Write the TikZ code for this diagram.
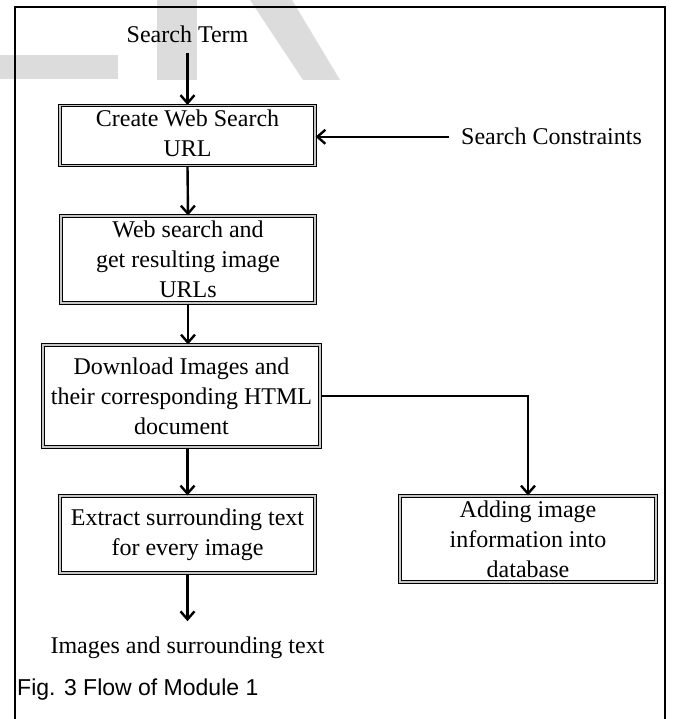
\documentclass[tikz,border=0pt]{standalone}
\usepackage{fontspec}
\setmainfont{Liberation Serif}
\newfontfamily\capfont{Liberation Sans}
\usetikzlibrary{positioning,arrows.meta,calc}
\definecolor{wmark}{HTML}{DCDCDC}

\begin{document}
\begin{tikzpicture}[x=1pt,y=-1pt,
  box/.style={draw,double=gray!45,double distance=1.2pt,line width=1.1pt,
              inner sep=0pt,align=center,font=\fontsize{24}{30}\selectfont},
  lbl/.style={inner sep=0pt,font=\fontsize{24}{30}\selectfont},
  fl/.style={-{Straight Barb[length=8pt,width=14pt]},line width=2.4pt}]
\useasboundingbox (0,0) rectangle (673,719);
% watermark
\fill[wmark] (0,55) rectangle (118,79);
\fill[wmark] (157,0) rectangle (197,80);
\fill[wmark] (250,0) -- (292,0) -- (340,80) -- (303,80) -- cycle;
\draw[line width=2pt] (15,7) rectangle (665,740);
\node[lbl,anchor=base] (st) at (187.5,43) {Search Term};
\node[box,minimum width=255pt,minimum height=55pt] (url) at (187.5,135.5) {\raisebox{-3pt}{\begin{tabular}{@{}c@{}}Create Web Search\\URL\end{tabular}}};
\node[lbl,anchor=base west] (sc) at (461,145) {Search Constraints};
\node[box,minimum width=254pt,minimum height=87pt] (web) at (188,259.5) {Web search and\\get resulting image\\URLs};
\node[box,minimum width=277pt,minimum height=102pt] (dl) at (181.5,396) {Download Images and\\their corresponding HTML\\document};
\node[box,minimum width=255pt,minimum height=77pt] (ext) at (187.5,534.5) {Extract surrounding text\\for every image};
\node[box,minimum width=256pt,minimum height=86pt] (db) at (528,539) {Adding image\\information into\\database};
\node[lbl,anchor=base] (out) at (187.5,653) {Images and surrounding text};
\node[inner sep=0pt,anchor=base west,font=\capfont\fontsize{23}{28}\selectfont] (cap) at (17,695) {Fig. 3 Flow of Module 1};
\draw[fl] ([yshift=-10pt]st.south) -- (url.north);
\draw[fl] ([xshift=-12pt]sc.west) -- (sc.west -| url.east);
\draw[fl] (url.south) -- (web.north);
\draw[fl] (web.south) -- (web.south |- dl.north);
\draw[fl] (dl.south -| ext.north) -- (ext.north);
\draw[fl] (dl.east) -| (db.north);
\draw[fl] (ext.south) -- ([yshift=15pt]out.north);
\end{tikzpicture}
\end{document}
